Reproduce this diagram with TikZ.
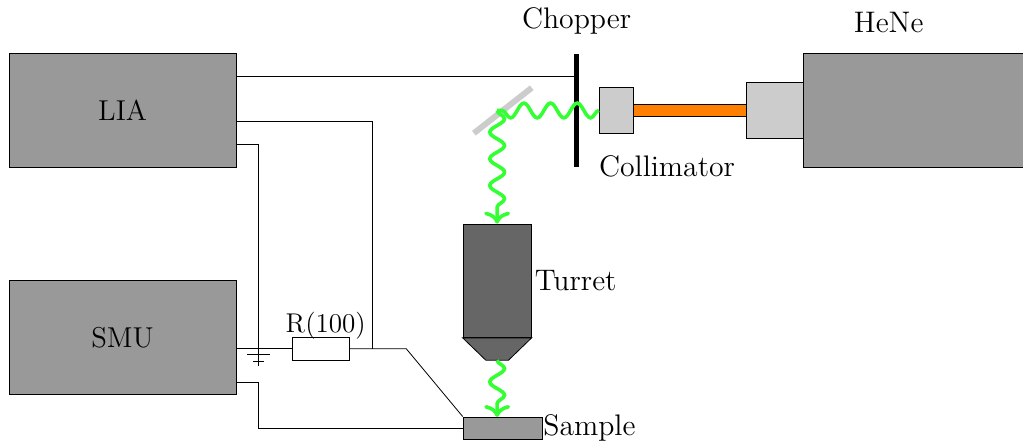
\documentclass[tikz,border=0pt]{standalone}
\usepackage{xcolor}
\usepackage{tikz}
\usetikzlibrary{arrows.meta, positioning, decorations.pathmorphing}

\begin{document}
\begin{tikzpicture}[
            box/.style={draw, fill=black!40, minimum width=4cm, minimum height=2cm, font=\Large},
            head/.style={draw, fill=black!20},
            label/.style={font=\fontsize{14.9}{18}\selectfont},
            beam/.style={draw=green!80, line width=1.8pt, decorate,
                decoration={snake, segment length=0.47cm, amplitude=0.13cm}},
            stem/.style={draw=green!80, line width=1.8pt, -{To[length=6pt, width=13pt]}}
        ]
        \useasboundingbox (-2.16, 1.947) rectangle (15.866, -5.912);

        % Instruments
        \node[box] (lia) at (0, 0) {LIA};
        \node[box] (smu) at (0, -4) {SMU};
        \node[box] (hene) at (14, 0) {};

        % Optics
        \node[fill=black, inner sep=0pt, minimum width=2.5pt, minimum height=2cm] (chopper) at (8, 0) {};
        \node[head, inner sep=0pt, minimum width=0.6cm, minimum height=0.8cm] (collimator) at (8.7, 0) {};
        \node[head, inner sep=0pt, minimum width=1cm, minimum height=1cm] (laser) at (11.5, 0) {};
        \node[draw, fill=orange, inner sep=0pt, minimum width=2cm, minimum height=0.2cm] (fiber) at (10, 0) {};
        \coordinate (mirrorA) at (6.19, -0.4);
        \coordinate (mirrorB) at (7.21, 0.4);
        \coordinate (spot) at (6.6, 0);
        \draw[black!20, line width=3pt] (mirrorA) -- (mirrorB);

        % Turret and sample
        \node[draw, fill=black!60, inner sep=0pt, minimum width=1.2cm, minimum height=2cm] (turret) at (6.6, -3) {};
        \draw[fill=black!60] (turret.south west) -- (turret.south east) -- (6.8, -4.4) -- (6.4, -4.4) -- cycle;
        \coordinate (lens) at (6.6, -4.4);
        \node[draw, fill=black!40, inner sep=0pt, minimum width=1.4cm, minimum height=0.4cm] (sample) at (6.7, -5.6) {};
        \coordinate (focus) at (6.6, -5.4);
        \coordinate (spotEnd) at (6.6, -1.88);
        \coordinate (lensEnd) at (6.6, -5.34);

        % Resistor
        \node[draw, fill=white, inner sep=0pt, minimum width=1cm, minimum height=0.4cm] (res) at (3.5, -4.2) {};

        % Labels
        \node[label] at (8, 1.57) {Chopper};
        \node[label] at (13.5, 1.55) {HeNe};
        \node[label, below right=0.27cm and -0.12cm of collimator.south west] {Collimator};
        \node[label, right=-1.9pt of turret] {Turret};
        \node[label, inner sep=0pt, right=0pt of sample] {Sample};
        \node[font=\fontsize{13.6}{16}\selectfont, above=-0.16cm of res, xshift=0.08cm] {R(100)};

        % Wires
        \coordinate (tap) at (4.4, -4.2);
        \coordinate (bend) at (5, -4.2);
        \coordinate (gnd) at (2.4, -4.5);
        \draw ([yshift=0.6cm]lia.east) -- (lia.east |- 0, 0.6) -- (chopper.west |- 0, 0.6);
        \draw ([yshift=-0.2cm]lia.east) -| (tap);
        \draw ([yshift=-0.6cm]lia.east) -| (gnd);
        \draw (2.2, -4.3) -- (2.6, -4.3);
        \draw (2.3, -4.42) -- (2.5, -4.42);
        \draw ([yshift=-0.2cm]smu.east) -- (res.west);
        \draw (res.east) -- (bend) -- (sample.north west);
        \draw ([yshift=-0.8cm]smu.east) -| (gnd |- sample.west) -- (sample.west);

        % Beam
        \draw[beam] (collimator.west) -- (spot);
        \draw[beam] (spot) -- (spotEnd);
        \draw[stem] (spotEnd) -- (turret.north);
        \draw[beam] (lens) -- (lensEnd);
        \draw[stem] (lensEnd) -- (focus);

        \end{tikzpicture}
\end{document}
